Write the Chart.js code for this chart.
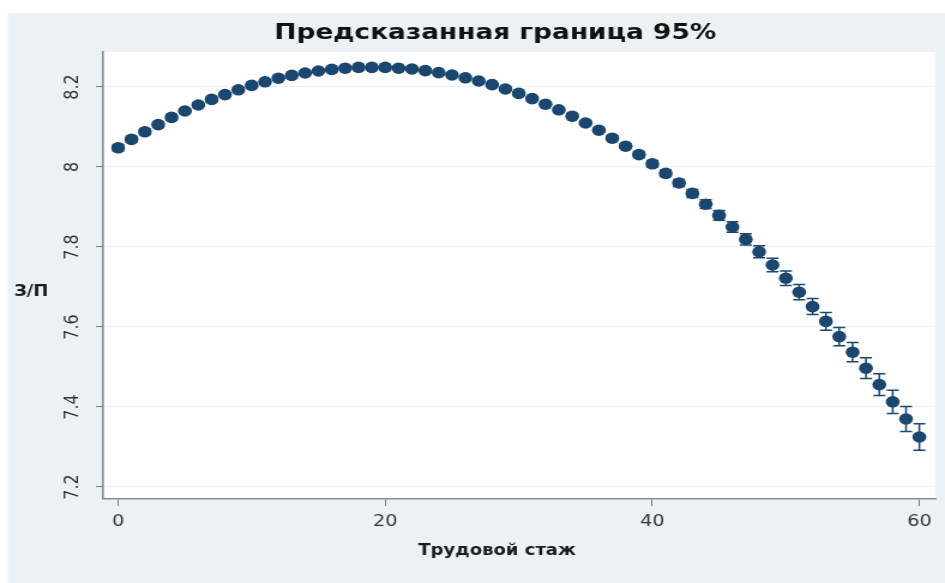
<!DOCTYPE html>
<html>
<head>
<meta charset="utf-8">
<style>
  html, body { margin: 0; padding: 0; background: #ffffff; overflow: hidden; }
  #chart { display: block; }
</style>
<script src="https://cdn.jsdelivr.net/npm/chart.js@4.4.1/dist/chart.umd.min.js"></script>
</head>
<body>
<!-- drawn at 788 px wide and shown widened to 945 px -->
<canvas id="chart" width="788" height="583" style="width:945px;height:583px"></canvas>
<script>
// Years of work experience
const experience = [
  0, 1, 2, 3, 4, 5, 6, 7, 8, 9,
  10, 11, 12, 13, 14, 15, 16, 17, 18, 19,
  20, 21, 22, 23, 24, 25, 26, 27, 28, 29,
  30, 31, 32, 33, 34, 35, 36, 37, 38, 39,
  40, 41, 42, 43, 44, 45, 46, 47, 48, 49,
  50, 51, 52, 53, 54, 55, 56, 57, 58, 59,
  60
];

// Predicted margin (log wage) at each experience level
const predicted = [
  8.048, 8.069, 8.088, 8.106, 8.124, 8.140, 8.155, 8.169, 8.181, 8.193,
  8.204, 8.213, 8.222, 8.229, 8.235, 8.240, 8.244, 8.247, 8.249, 8.249,
  8.249, 8.247, 8.245, 8.241, 8.236, 8.230, 8.223, 8.215, 8.206, 8.195,
  8.184, 8.171, 8.157, 8.143, 8.127, 8.110, 8.092, 8.072, 8.052, 8.031,
  8.008, 7.984, 7.960, 7.934, 7.907, 7.879, 7.850, 7.819, 7.788, 7.755,
  7.722, 7.687, 7.651, 7.614, 7.576, 7.537, 7.497, 7.456, 7.413, 7.370,
  7.325
];

// Half-width of the 95% confidence interval
const ciHalf = [
  0.008, 0.007, 0.007, 0.006, 0.006, 0.005, 0.005, 0.005, 0.004, 0.004,
  0.004, 0.004, 0.003, 0.003, 0.003, 0.003, 0.003, 0.003, 0.003, 0.003,
  0.003, 0.003, 0.003, 0.003, 0.003, 0.003, 0.003, 0.003, 0.003, 0.003,
  0.004, 0.004, 0.004, 0.004, 0.005, 0.005, 0.005, 0.006, 0.006, 0.007,
  0.008, 0.008, 0.009, 0.010, 0.011, 0.012, 0.013, 0.014, 0.015, 0.017,
  0.018, 0.019, 0.020, 0.022, 0.023, 0.024, 0.026, 0.027, 0.029, 0.031,
  0.033
];

const xTicks = [0, 20, 40, 60];
const yTicks = [7.2, 7.4, 7.6, 7.8, 8, 8.2];

const chartTitle = 'Предсказанная граница 95%';
const xTitle = 'Трудовой стаж';
const yTitle = 'З/П';

const NAVY = '#1a476f';
const REGION = '#eaf2f3';
const FONT = "'DejaVu Sans', 'Liberation Sans', sans-serif";

// Graph region, plot region and axis titles
const backdrop = {
  id: 'backdrop',
  beforeDraw(chart) {
    const { ctx, width, height, chartArea: a } = chart;
    ctx.save();
    ctx.fillStyle = '#ffffff';
    ctx.fillRect(0, 0, width, height);
    ctx.fillStyle = REGION;
    ctx.fillRect(6.7, 13, width - 6.7, height - 13);
    ctx.fillStyle = '#ffffff';
    ctx.fillRect(a.left, a.top, a.right - a.left, a.bottom - a.top);
    ctx.restore();
  },
  afterDraw(chart) {
    const { ctx } = chart;
    ctx.save();
    ctx.fillStyle = '#1c1c1c';
    ctx.textAlign = 'center';
    ctx.textBaseline = 'middle';
    ctx.font = "bold 15px " + FONT;
    ctx.fillText(xTitle, 414.5, 551);
    ctx.fillText(yTitle, 26, 292);
    ctx.restore();
  }
};

// Capped 95% interval around each prediction
const errorBars = {
  id: 'errorBars',
  beforeDatasetsDraw(chart) {
    const { ctx, scales: { x, y } } = chart;
    ctx.save();
    ctx.strokeStyle = NAVY;
    ctx.lineWidth = 1.5;
    const cap = 5;
    experience.forEach((xv, i) => {
      const px = x.getPixelForValue(xv);
      const lo = y.getPixelForValue(predicted[i] - ciHalf[i]);
      const hi = y.getPixelForValue(predicted[i] + ciHalf[i]);
      ctx.beginPath();
      ctx.moveTo(px, lo); ctx.lineTo(px, hi);
      ctx.moveTo(px - cap, lo); ctx.lineTo(px + cap, lo);
      ctx.moveTo(px - cap, hi); ctx.lineTo(px + cap, hi);
      ctx.stroke();
    });
    ctx.restore();
  }
};

new Chart(document.getElementById('chart'), {
  type: 'scatter',
  data: {
    datasets: [{
      data: experience.map((xv, i) => ({ x: xv, y: predicted[i] })),
      backgroundColor: NAVY,
      borderWidth: 0,
      pointRadius: 5.8,
      pointHoverRadius: 5.8,
      showLine: false
    }]
  },
  options: {
    responsive: false,
    animation: false,
    devicePixelRatio: 1,
    layout: { padding: { left: 46, right: 8, top: 0, bottom: 0 } },
    plugins: {
      legend: { display: false },
      tooltip: { enabled: false },
      title: {
        display: true,
        text: chartTitle,
        color: '#111111',
        font: { family: FONT, size: 22, weight: 'bold', lineHeight: 1.2 },
        padding: { top: 20, bottom: 5.6 }
      }
    },
    scales: {
      x: {
        type: 'linear',
        min: -1.124,
        max: 61.2,
        afterBuildTicks(s) { s.ticks = xTicks.map(v => ({ value: v })); },
        afterFit(s) { s.height = 84; s.paddingLeft = 0; s.paddingRight = 0; },
        grid: {
          drawOnChartArea: false,
          drawTicks: true,
          tickLength: 7,
          tickColor: '#7a7a7a',
          tickWidth: 1
        },
        border: { display: true, color: '#8a8a8a', width: 1.6 },
        ticks: {
          color: '#333333',
          padding: 6,
          font: { family: FONT, size: 16 },
          maxRotation: 0,
          callback: v => String(v)
        }
      },
      y: {
        type: 'linear',
        min: 7.17,
        max: 8.2875,
        afterBuildTicks(s) { s.ticks = yTicks.map(v => ({ value: v })); },
        afterFit(s) { s.width = 40; s.paddingTop = 0; s.paddingBottom = 0; },
        grid: {
          color: REGION,
          lineWidth: 1.2,
          drawTicks: true,
          tickLength: 6,
          tickColor: '#7a7a7a',
          tickWidth: 1
        },
        border: { display: true, color: '#8a8a8a', width: 1.6 },
        ticks: {
          color: '#333333',
          padding: 6,
          minRotation: 90,
          crossAlign: 'center',
          font: { family: FONT, size: 16 },
          callback: v => String(v)
        }
      }
    }
  },
  plugins: [backdrop, errorBars]
});
</script>
</body>
</html>
